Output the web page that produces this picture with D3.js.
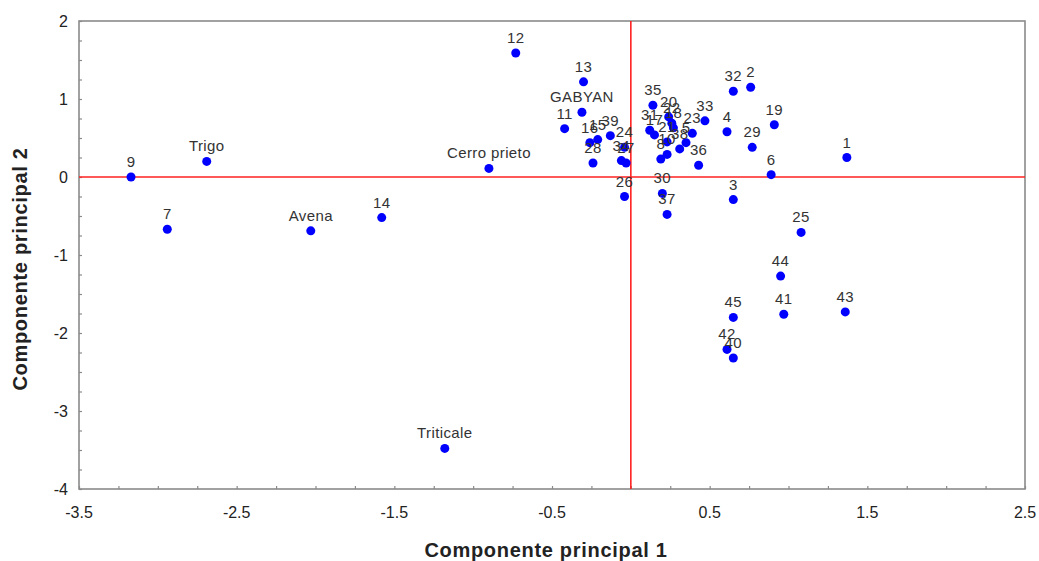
<!DOCTYPE html>
<html>
<head>
<meta charset="utf-8">
<script src="https://cdn.jsdelivr.net/npm/d3@7"></script>
<style>
  html, body { margin: 0; padding: 0; background: #fff; }
  svg { display: block; }
</style>
</head>
<body>
<svg id="chart" width="1039" height="561"></svg>
<script>
// Scores of each entry on the first two principal components
const labels = ["1","2","3","4","5","6","7","8","9","10",
  "11","12","13","14","15","16","17","18","19","20",
  "21","22","23","24","25","26","27","28","29","30",
  "31","32","33","34","35","36","37","38","39","40",
  "41","42","43","44","45",
  "GABYAN","Trigo","Avena","Cerro prieto","Triticale"];
const pc1 = [1.37, 0.76, 0.65, 0.61, 0.35, 0.89, -2.94, 0.19, -3.17, 0.23,
  -0.42, -0.73, -0.30, -1.58, -0.21, -0.26, 0.15, 0.27, 0.91, 0.24,
  0.23, 0.26, 0.39, -0.04, 1.08, -0.04, -0.03, -0.24, 0.77, 0.20,
  0.12, 0.65, 0.47, -0.06, 0.14, 0.43, 0.23, 0.31, -0.13, 0.65,
  0.97, 0.61, 1.36, 0.95, 0.65,
  -0.31, -2.69, -2.03, -0.90, -1.18];
const pc2 = [0.25, 1.15, -0.29, 0.58, 0.44, 0.03, -0.67, 0.23, 0.00, 0.29,
  0.62, 1.59, 1.22, -0.52, 0.48, 0.44, 0.54, 0.63, 0.67, 0.77,
  0.45, 0.69, 0.56, 0.38, -0.71, -0.25, 0.18, 0.18, 0.38, -0.21,
  0.60, 1.10, 0.72, 0.21, 0.92, 0.15, -0.48, 0.36, 0.53, -2.32,
  -1.76, -2.21, -1.73, -1.27, -1.80,
  0.83, 0.20, -0.69, 0.11, -3.48];

const xTicks = [-3.5, -2.5, -1.5, -0.5, 0.5, 1.5, 2.5];
const yTicks = [-4, -3, -2, -1, 0, 1, 2];
const xTitle = "Componente principal 1";
const yTitle = "Componente principal 2";

const svg = d3.select("#chart");
const plot = { left: 79, right: 1025, top: 21, bottom: 489 };

const x = d3.scaleLinear().domain([-3.5, 2.5]).range([plot.left, plot.right]);
const y = d3.scaleLinear().domain([-4, 2]).range([plot.bottom, plot.top]);

const frameColor = "#8a8a8a";
const font = "'Liberation Sans', Arial, Helvetica, sans-serif";
const hyphenMinus = s => s.replace("\u2212", "-");

// minor ticks every 0.25 units, pointing into the plot
const xMinor = d3.range(-3.5, 2.5001, 0.25);
const yMinor = d3.range(-4, 2.0001, 0.25);

const gx = svg.append("g").attr("transform", `translate(0,${plot.bottom})`)
  .call(d3.axisTop(x).tickValues(xMinor).tickSize(3).tickFormat(""));
const gy = svg.append("g").attr("transform", `translate(${plot.left},0)`)
  .call(d3.axisRight(y).tickValues(yMinor).tickSize(3).tickFormat(""));
[gx, gy].forEach(g => {
  g.select(".domain").remove();
  g.selectAll(".tick line").attr("stroke", frameColor).attr("stroke-width", 1.2);
});

// frame around the plot
svg.append("rect")
  .attr("x", plot.left).attr("y", plot.top)
  .attr("width", plot.right - plot.left).attr("height", plot.bottom - plot.top)
  .attr("fill", "none").attr("stroke", frameColor).attr("stroke-width", 1.6);

// tick labels
svg.append("g").selectAll("text").data(xTicks).join("text")
  .attr("x", d => x(d)).attr("y", plot.bottom + 29)
  .attr("text-anchor", "middle")
  .attr("font-family", font).attr("font-size", 16).attr("fill", "#222")
  .text(d => hyphenMinus(d3.format(".1f")(d)));
svg.append("g").selectAll("text").data(yTicks).join("text")
  .attr("x", plot.left - 11).attr("y", d => y(d) + 6)
  .attr("text-anchor", "end")
  .attr("font-family", font).attr("font-size", 16).attr("fill", "#222")
  .text(d => hyphenMinus(d3.format("d")(d)));

// reference lines through the origin
svg.append("line")
  .attr("x1", x(0)).attr("x2", x(0)).attr("y1", plot.top).attr("y2", plot.bottom)
  .attr("stroke", "#ff2020").attr("stroke-width", 1.6);
svg.append("line")
  .attr("x1", plot.left).attr("x2", plot.right).attr("y1", y(0)).attr("y2", y(0))
  .attr("stroke", "#ff2020").attr("stroke-width", 1.6);

const pts = labels.map((l, i) => ({ label: l, px: pc1[i], py: pc2[i] }));

// points
svg.append("g").selectAll("circle").data(pts).join("circle")
  .attr("cx", d => x(d.px)).attr("cy", d => y(d.py))
  .attr("r", 4.5).attr("fill", "#0000ff");

// point labels
svg.append("g").selectAll("text").data(pts).join("text")
  .attr("x", d => x(d.px)).attr("y", d => y(d.py) - 10)
  .attr("text-anchor", "middle")
  .attr("font-family", font).attr("font-size", 15).attr("fill", "#333")
  .attr("letter-spacing", 0.4)
  .text(d => d.label);

// axis titles
svg.append("text")
  .attr("x", (plot.left + plot.right) / 2 - 6).attr("y", 557)
  .attr("text-anchor", "middle")
  .attr("font-family", font).attr("font-size", 20).attr("font-weight", "bold")
  .attr("letter-spacing", 0.7)
  .attr("fill", "#222")
  .text(xTitle);
svg.append("text")
  .attr("transform", `translate(27,${(plot.top + plot.bottom) / 2 + 14}) rotate(-90)`)
  .attr("text-anchor", "middle")
  .attr("font-family", font).attr("font-size", 20).attr("font-weight", "bold")
  .attr("letter-spacing", 0.7)
  .attr("fill", "#222")
  .text(yTitle);
</script>
</body>
</html>
